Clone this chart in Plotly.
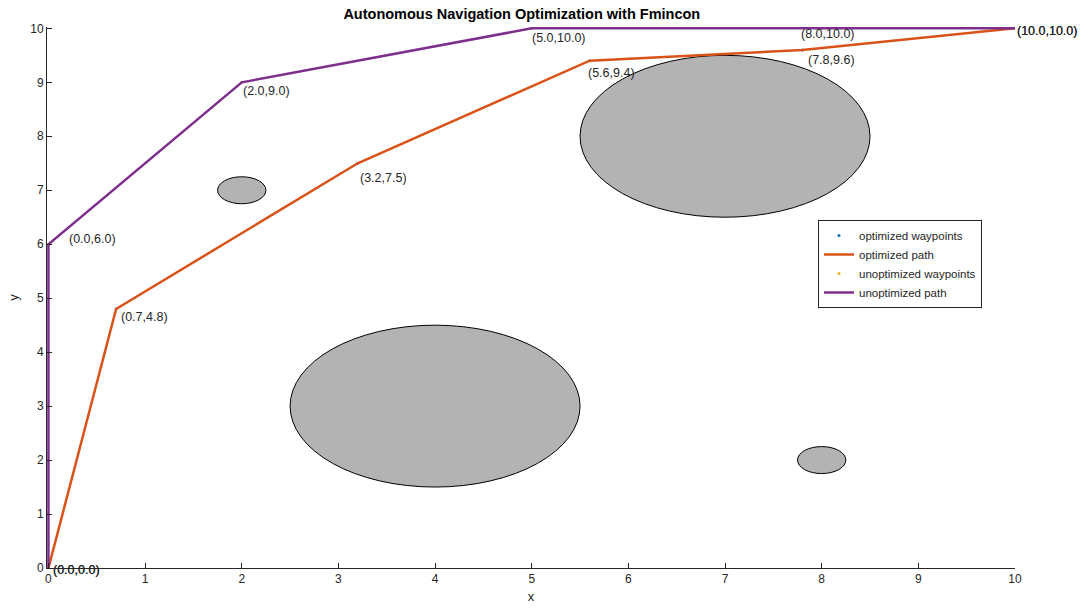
import plotly.graph_objects as go

# Data
opt_x = [0.0, 0.7, 3.2, 5.6, 7.8, 10.0]
opt_y = [0.0, 4.8, 7.5, 9.4, 9.6, 10.0]
unopt_x = [0.0, 0.0, 2.0, 5.0, 8.0, 10.0]
unopt_y = [0.0, 6.0, 9.0, 10.0, 10.0, 10.0]

obs_cx = [7.0, 4.0, 2.0, 8.0]
obs_cy = [8.0, 3.0, 7.0, 2.0]
obs_r = [1.5, 1.5, 0.25, 0.25]

ticks = list(range(0, 11))

# label pixel offsets (style only)
opt_shift = [(3, -2), (3, -8), (0, -15), (-4, -12), (4, -10), (0, -3)]
unopt_shift = [(3, -2), (19, 5), (-1, -9), (-2, -10), (-23, -6), (0, -3)]

FONT = "Arial, Liberation Sans, Helvetica, sans-serif"
TXT = "#262626"

fig = go.Figure()

fig.add_trace(go.Scatter(
    x=opt_x, y=opt_y, mode="markers", name="optimized waypoints",
    marker=dict(color="#0072BD", size=3)))
fig.add_trace(go.Scatter(
    x=opt_x, y=opt_y, mode="lines", name="optimized path",
    line=dict(color="#D95319", width=2.5)))
fig.add_trace(go.Scatter(
    x=unopt_x, y=unopt_y, mode="markers", name="unoptimized waypoints",
    marker=dict(color="#EDB120", size=3)))
fig.add_trace(go.Scatter(
    x=unopt_x, y=unopt_y, mode="lines", name="unoptimized path",
    line=dict(color="#7E2F8E", width=2.5)))

for xs, ys, shifts in ((opt_x, opt_y, opt_shift), (unopt_x, unopt_y, unopt_shift)):
    for a, b, (dx, dy) in zip(xs, ys, shifts):
        fig.add_annotation(x=a, y=b, xref="x", yref="y",
                           text="(%.1f,%.1f)" % (a, b), showarrow=False,
                           xanchor="left", yanchor="middle",
                           xshift=dx, yshift=dy,
                           font=dict(size=12.5, color=TXT, family=FONT))

for cx, cy, r in zip(obs_cx, obs_cy, obs_r):
    fig.add_shape(type="circle", xref="x", yref="y",
                  x0=cx - r, x1=cx + r, y0=cy - r, y1=cy + r,
                  fillcolor="#B3B3B3", line=dict(color="black", width=1),
                  layer="below")

fig.update_layout(
    width=1082, height=609,
    margin=dict(l=47, r=67, t=27, b=41, autoexpand=False),
    paper_bgcolor="white", plot_bgcolor="white",
    font=dict(family=FONT, size=12, color=TXT),
    title=dict(text="<b>Autonomous Navigation Optimization with Fmincon</b>",
               x=0.4905, xanchor="center", xref="paper",
               y=1 - 14 / 609, yanchor="middle", yref="container",
               font=dict(size=14.5, color="black", family=FONT)),
    showlegend=True,
    legend=dict(x=(818 - 47) / 968, y=(568 - 220) / 541, xanchor="left", yanchor="top",
                bgcolor="white", bordercolor="#262626", borderwidth=1,
                font=dict(size=11.5, color=TXT, family=FONT),
                tracegroupgap=0, itemwidth=30),
)

fig.update_xaxes(range=[-0.015, 10], tickvals=ticks, ticktext=[str(t) for t in ticks],
                 showgrid=False, zeroline=False, showline=True, linecolor=TXT,
                 linewidth=1, ticks="inside", ticklen=5, tickcolor=TXT,
                 automargin=False,
                 title=dict(text="x", standoff=6, font=dict(size=13, color=TXT)),
                 tickfont=dict(size=12, color=TXT))
fig.update_yaxes(range=[0, 10.025], tickvals=ticks, ticktext=[str(t) for t in ticks],
                 showgrid=False, zeroline=False, showline=True, linecolor=TXT,
                 linewidth=1, ticks="inside", ticklen=5, tickcolor=TXT,
                 automargin=False,
                 title=dict(text="y", standoff=8, font=dict(size=13, color=TXT)),
                 tickfont=dict(size=12, color=TXT))

fig.write_html("out.html", config={"displayModeBar": False},
               post_script="document.body.style.margin='0';document.body.style.padding='0';")
